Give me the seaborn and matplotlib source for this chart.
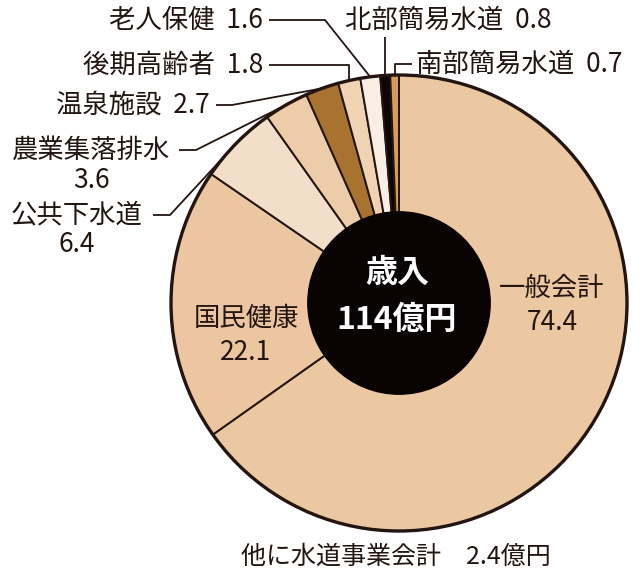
import matplotlib
matplotlib.use("Agg")
import matplotlib.pyplot as plt
import seaborn as sns
import numpy as np
from matplotlib.patches import Circle

# ---- data ----
categories = ["一般会計", "国民健康", "公共下水道", "農業集落排水", "温泉施設",
              "後期高齢者", "老人保健", "北部簡易水道", "南部簡易水道"]
values = [74.4, 22.1, 6.4, 3.6, 2.7, 1.8, 1.6, 0.8, 0.7]
value_labels = ["74.4", "22.1", "6.4", "3.6", "2.7", "1.8", "1.6", "0.8", "0.7"]
center_title = "歳入"
center_total = "114億円"
note = "他に水道事業会計　2.4億円"

# ---- style ----
sns.set_theme(style="white")
plt.rcParams['font.family'] = ['Noto Sans CJK JP', 'DejaVu Sans']
INK = "#231510"
palette = sns.color_palette(["#ECC8A2", "#EBC6A0", "#F3DFC9", "#ECCCA9", "#A8722F",
                             "#EFD3B2", "#F8EEE4", "#0C0604", "#D89C5A"])

W, H = 640, 573
fig = plt.figure(figsize=(W / 100, H / 100), dpi=100)
fig.patch.set_facecolor("white")
CX, CY, R = 399, 303, 228
ax = fig.add_axes([(CX - R) / W, (H - CY - R) / H, 2 * R / W, 2 * R / H])

wedges, _ = ax.pie(values, colors=palette, startangle=90, counterclock=False, radius=1,
                   wedgeprops=dict(edgecolor=INK, linewidth=1.4, clip_on=False))
ax.set_xlim(-1, 1)
ax.set_ylim(-1, 1)
ax.set_aspect("equal")
ax.axis("off")

# outer outline and black hole
ax.add_patch(Circle((0, 0), 1, fill=False, edgecolor=INK, linewidth=2.4, zorder=3, clip_on=False))
ax.add_patch(Circle((0, 0), 0.40, facecolor="#0A0303", edgecolor="#0A0303", zorder=4))


def P(px, py):
    return ((px - CX) / R, (CY - py) / R)


ax.text(*P(397, 273), center_title, color="white", fontsize=23, fontweight="bold",
        ha="center", va="center", zorder=5)
ax.text(*P(397, 320), center_total, color="white", fontsize=23, fontweight="bold",
        ha="center", va="center", zorder=5)

FS = 19
# inner labels
inner = {0: ((552, 288), (552, 322)), 1: ((246, 318), (246, 352))}
for i, (p1, p2) in inner.items():
    ax.text(*P(*p1), categories[i], fontsize=FS, color=INK, ha="center", va="center", zorder=5)
    ax.text(*P(*p2), value_labels[i], fontsize=FS, color=INK, ha="center", va="center", zorder=5)


def edge_point(i):
    w = wedges[i]
    th = np.deg2rad((w.theta1 + w.theta2) / 2)
    return np.cos(th), np.sin(th)


def leader(pts_px, end):
    xs = [P(*p)[0] for p in pts_px] + [end[0]]
    ys = [P(*p)[1] for p in pts_px] + [end[1]]
    ax.plot(xs, ys, color=INK, lw=1.3, clip_on=False, zorder=2, solid_capstyle="butt")


# two-line outer labels
for i, cx_, y1, y2, start, corner in [(2, 77, 215, 245, (153, 215), (170, 215)),
                                      (3, 91, 150, 180, (179, 150), (196, 150))]:
    ax.text(*P(cx_, y1), categories[i], fontsize=FS, color=INK, ha="center", va="center")
    ax.text(*P(cx_, y2), value_labels[i], fontsize=FS, color=INK, ha="center", va="center")
    leader([start, corner], edge_point(i))

# one-line outer labels on the left/top
e5 = edge_point(5)
for i, xr, y, corner in [(4, 210, 105, (232, 105)),
                         (5, 263, 65, (CX + e5[0] * R, 65)),
                         (6, 263, 20, (325, 20))]:
    ax.text(*P(xr, y), f"{categories[i]}  {value_labels[i]}", fontsize=FS, color=INK,
            ha="right", va="center")
    leader([(xr + 6, y), corner], edge_point(i))

# 北部簡易水道
ax.text(*P(345, 20), f"{categories[7]}  {value_labels[7]}", fontsize=FS, color=INK,
        ha="left", va="center")
e7 = edge_point(7)
leader([(CX + e7[0] * R, 37)], e7)

# 南部簡易水道
ax.text(*P(416, 64), f"{categories[8]}  {value_labels[8]}", fontsize=FS, color=INK,
        ha="left", va="center")
e8 = edge_point(8)
leader([(412, 64), (CX + e8[0] * R, 64)], e8)

fig.text(396 / W, 1 - 557 / H, note, fontsize=18, color=INK, ha="center", va="center")

fig.savefig("out.png", dpi=100, facecolor="white")
